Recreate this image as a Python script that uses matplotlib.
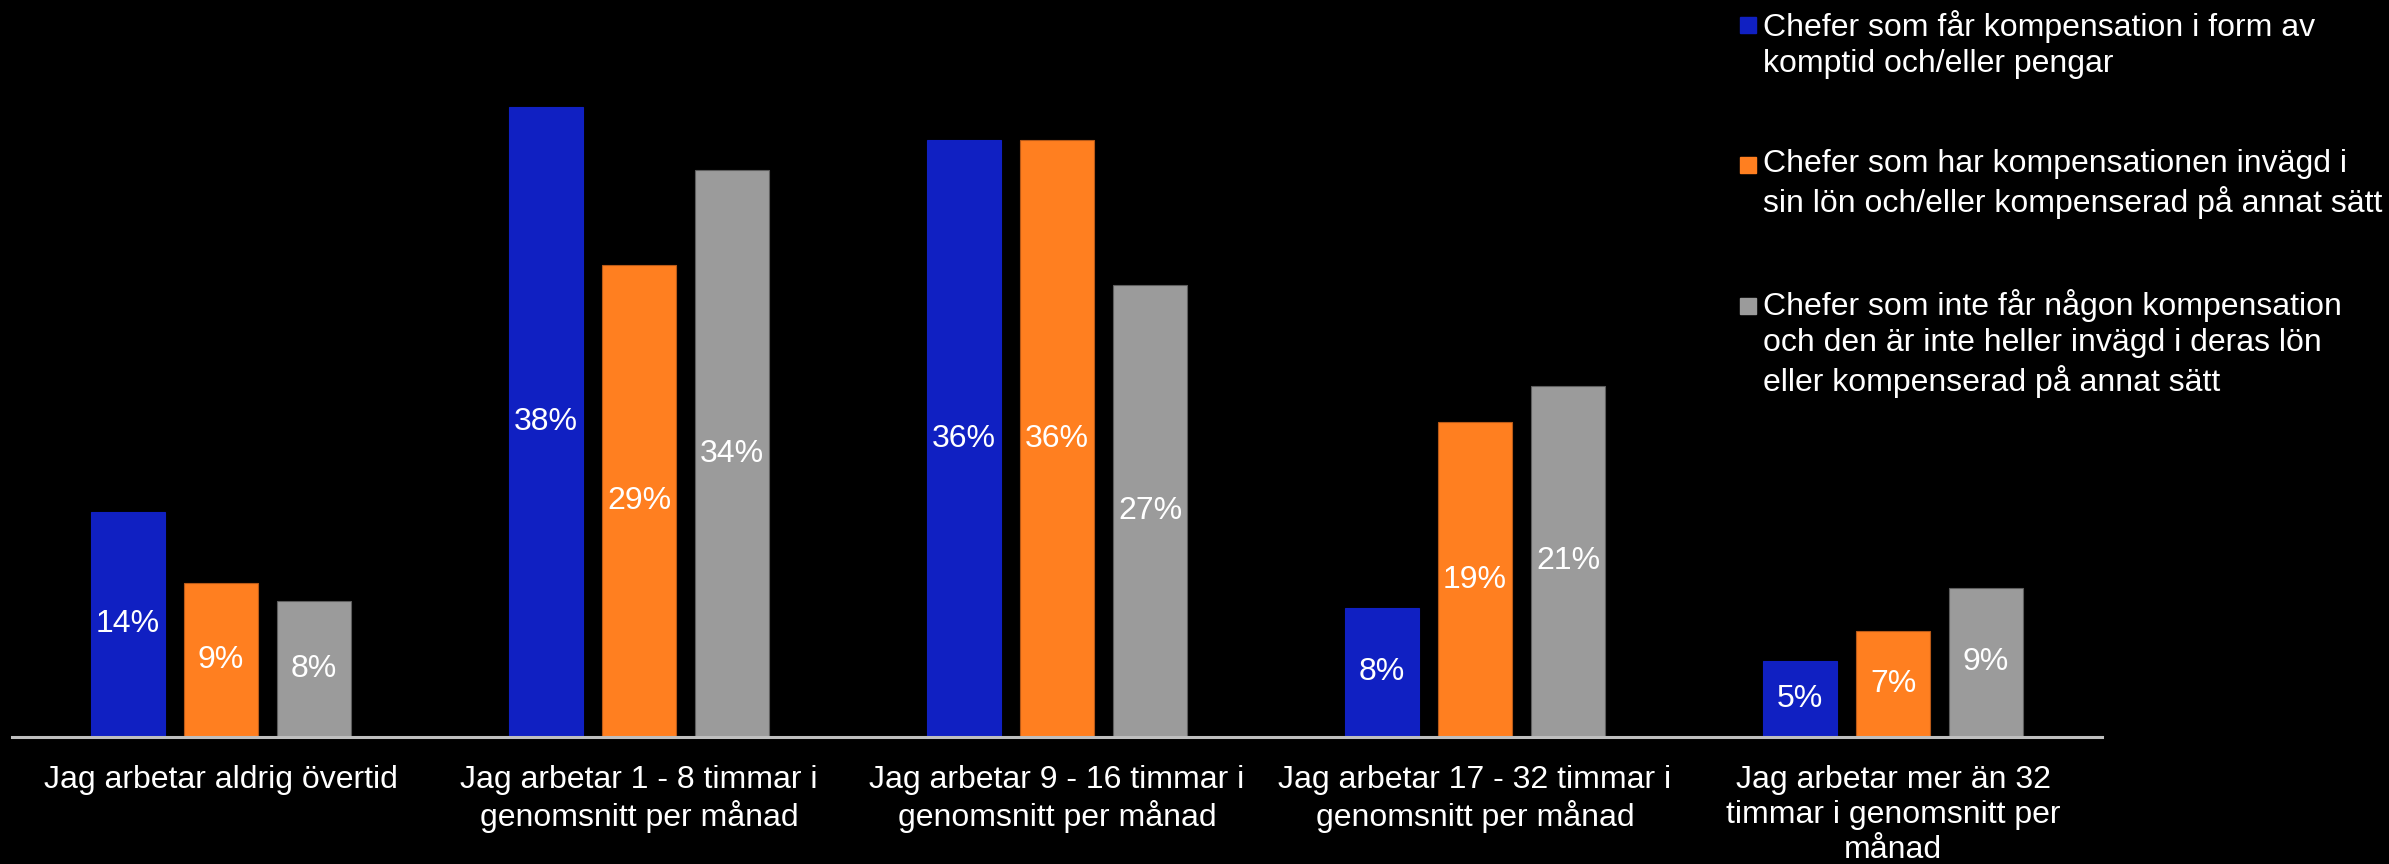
import matplotlib
matplotlib.use("Agg")
import matplotlib.pyplot as plt
from matplotlib.patches import Rectangle
import numpy as np

categories = [
    "Jag arbetar aldrig övertid",
    "Jag arbetar 1 - 8 timmar i\ngenomsnitt per månad",
    "Jag arbetar 9 - 16 timmar i\ngenomsnitt per månad",
    "Jag arbetar 17 - 32 timmar i\ngenomsnitt per månad",
    "Jag arbetar mer än 32\ntimmar i genomsnitt per\nmånad",
]
series_names = [
    "Chefer som får kompensation i form av\nkomptid och/eller pengar",
    "Chefer som har kompensationen invägd i\nsin lön och/eller kompenserad på annat sätt",
    "Chefer som inte får någon kompensation\noch den är inte heller invägd i deras lön\neller kompenserad på annat sätt",
]
# bar heights (in %)
comp_money = [13.6, 38.0, 36.0, 7.8, 4.6]
comp_salary = [9.3, 28.5, 36.0, 19.0, 6.4]
no_comp = [8.2, 34.2, 27.3, 21.2, 9.0]
# data labels as printed on the bars
labels_money = ["14%", "38%", "36%", "8%", "5%"]
labels_salary = ["9%", "29%", "36%", "19%", "7%"]
labels_none = ["8%", "34%", "27%", "21%", "9%"]

colors = ["#1020C2", "#FF7F20", "#9B9B9B"]
edges = ["#1020C2", "#B85A18", "#5E5E5E"]

plt.rcParams['font.family'] = ['Liberation Sans', 'DejaVu Sans']

W, H = 2389, 864
fig = plt.figure(figsize=(W / 100, H / 100), dpi=100, facecolor='black')
ax = fig.add_axes([12 / W, 1 - 737 / H, (2102 - 12) / W, 737 / H])
ax.set_facecolor('black')

x = np.arange(len(categories))
width = 0.175
step = 0.2226
fs = 23
series = [comp_money, comp_salary, no_comp]
series_labels = [labels_money, labels_salary, labels_none]
for i, (vals, labs, col, ec) in enumerate(zip(series, series_labels, colors, edges)):
    bars = ax.bar(x + (i - 1) * step, vals, width=width, color=col, edgecolor=ec, linewidth=0.8)
    for b, v, lab in zip(bars, vals, labs):
        ax.text(b.get_x() + b.get_width() / 2, v / 2, lab, ha='center', va='center',
                color='white', fontsize=fs)

ax.set_xlim(-0.5, len(categories) - 0.5)
ax.set_ylim(0, 737 / 16.57)
ax.set_xticks(x)
ax.set_xticklabels(categories, color='white', fontsize=fs, linespacing=1.22)
ax.tick_params(axis='x', length=0, pad=20)
ax.set_yticks([])
for s in ['top', 'right', 'left']:
    ax.spines[s].set_visible(False)
ax.spines['bottom'].set_color('#BFBFBF')
ax.spines['bottom'].set_linewidth(2.2)
ax.spines['bottom'].set_zorder(3)

# legend (manual, handle aligned to first line)
first_baselines = [34, 174, 315]
line_step = 38
for name, col, yb in zip(series_names, colors, first_baselines):
    nlines = name.count("\n")
    fig.add_artist(Rectangle((1740 / W, 1 - (yb - 1) / H), 16 / W, 16 / H,
                             transform=fig.transFigure, color=col))
    fig.text(1763 / W, 1 - (yb + nlines * line_step) / H, name, color='white', fontsize=fs,
             ha='left', va='baseline', linespacing=1.27)

fig.savefig("out.png", dpi=100, facecolor='black')
